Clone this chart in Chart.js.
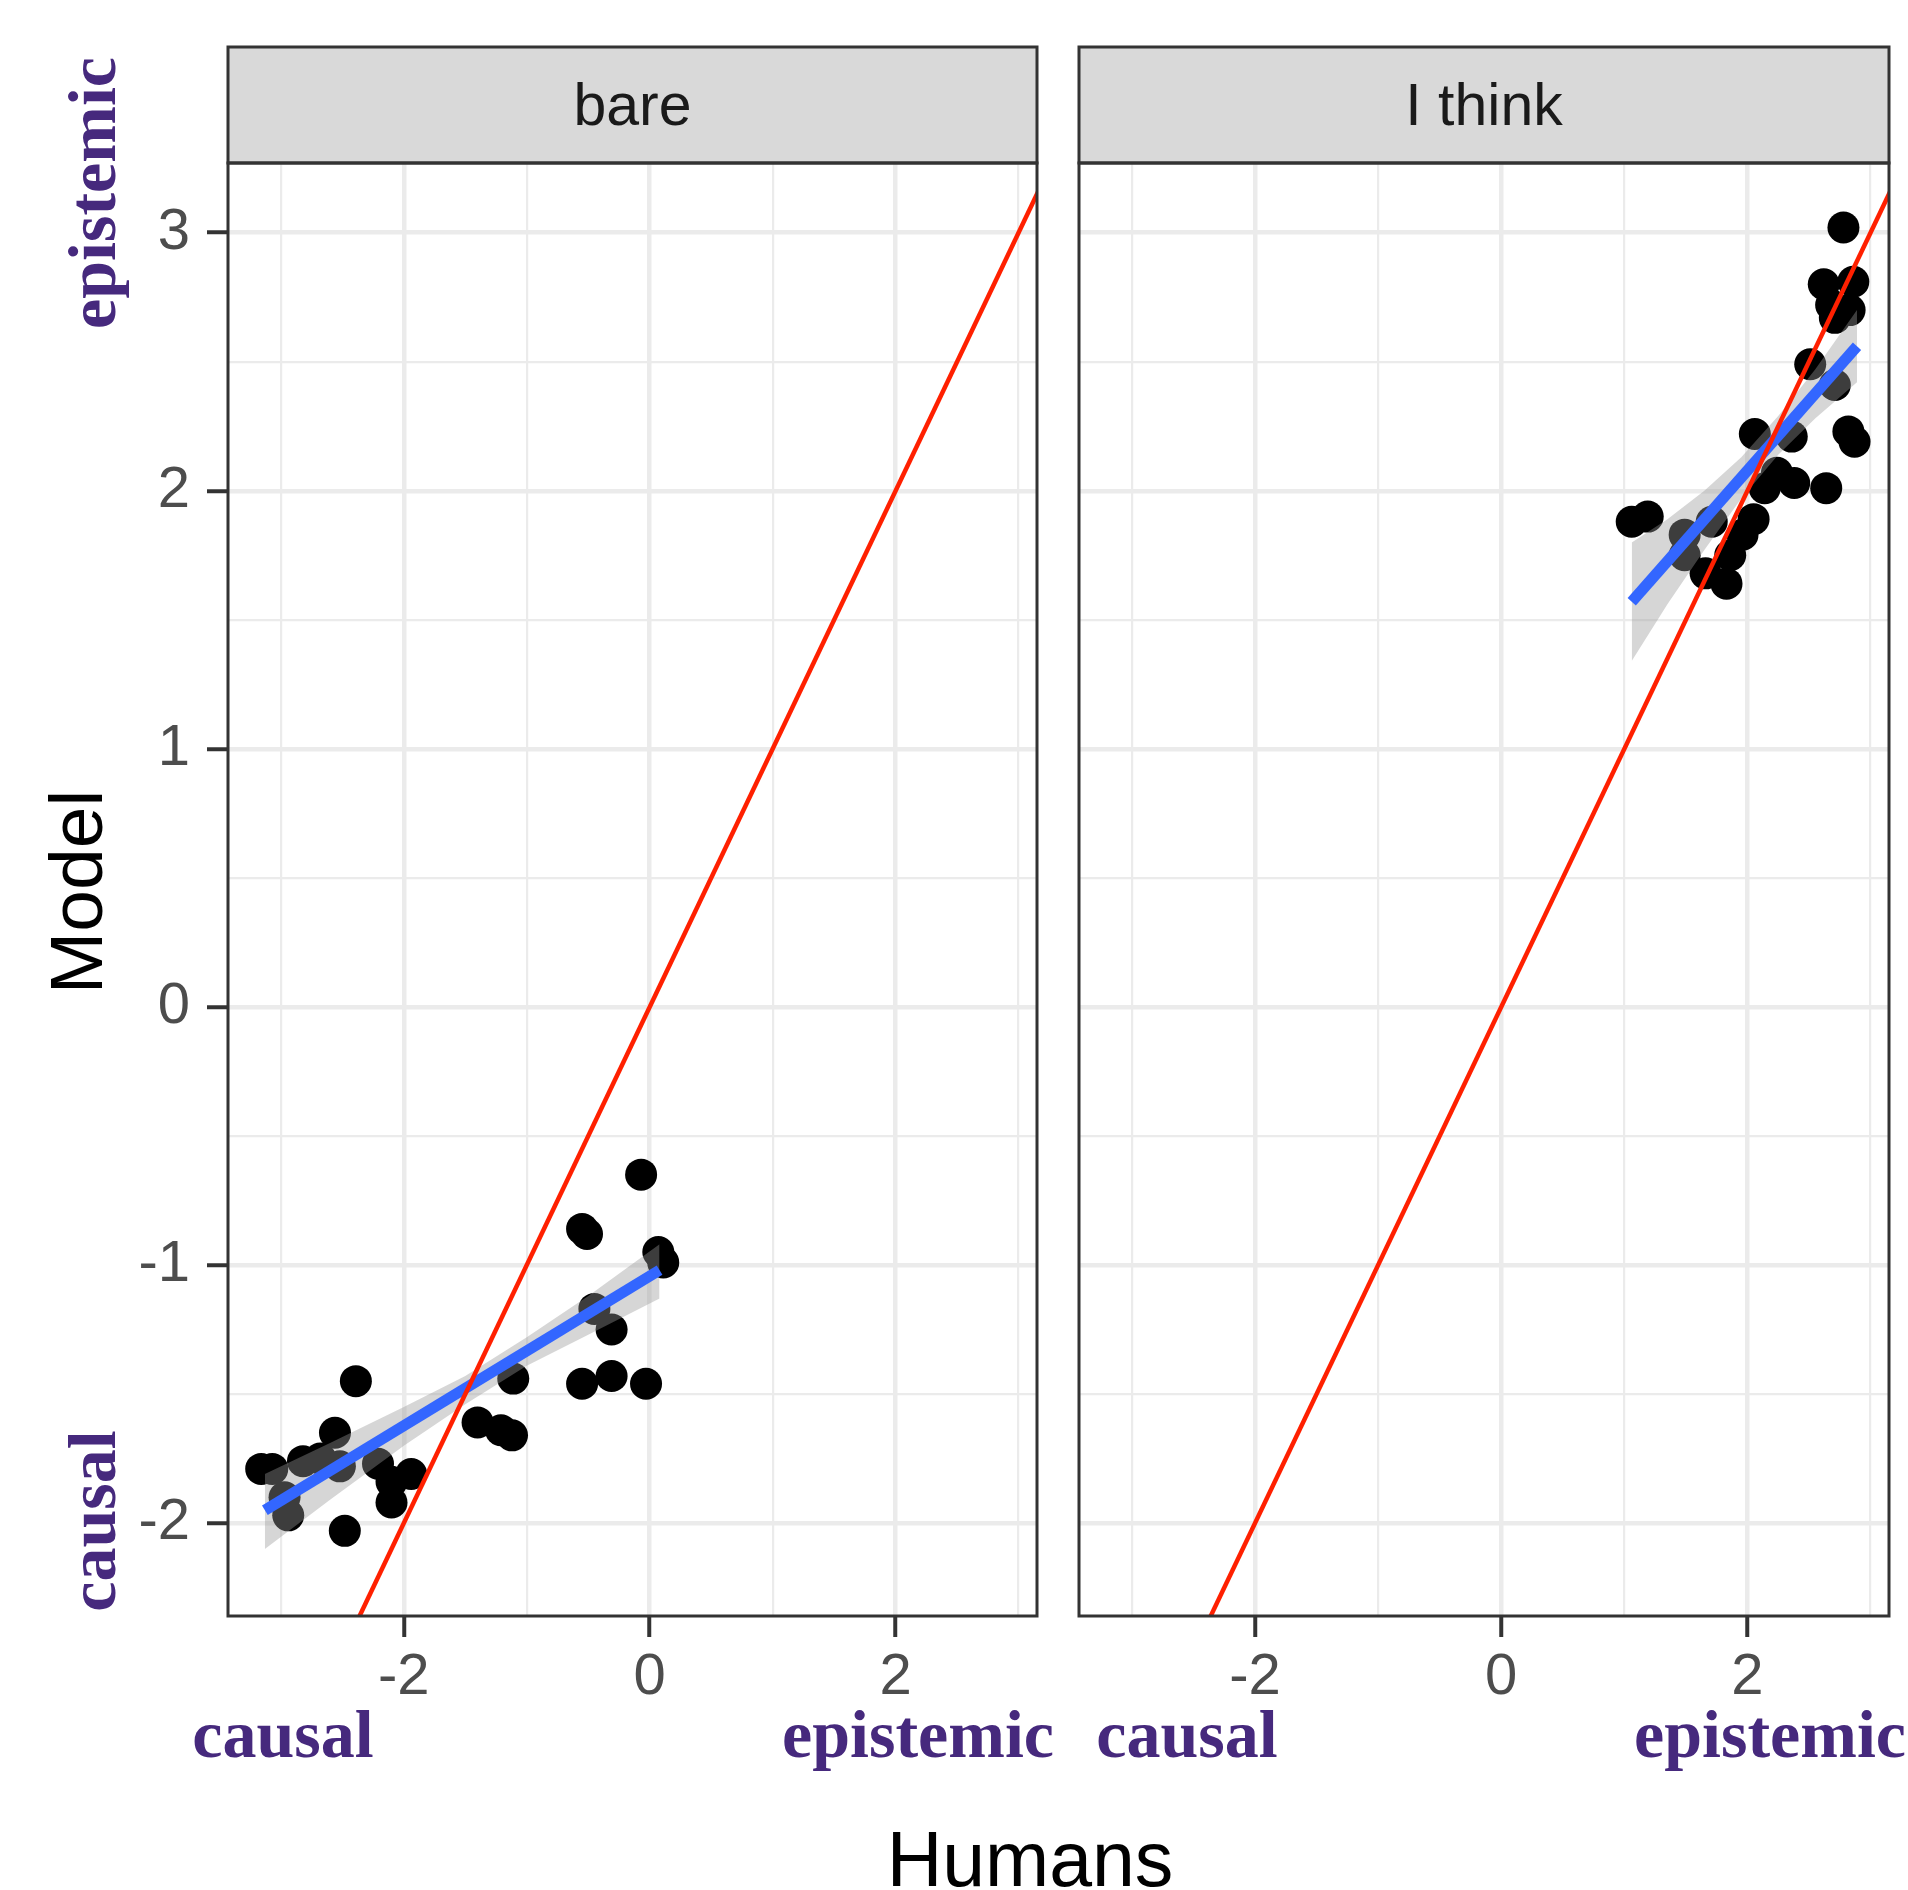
<!DOCTYPE html>
<html>
<head>
<meta charset="utf-8">
<title>Model vs Humans</title>
<script src="https://cdn.jsdelivr.net/npm/chart.js@4.4.1/dist/chart.umd.min.js"></script>
<style>
  html, body { margin: 0; padding: 0; background: #fff; }
  #wrap { position: relative; width: 1908px; height: 1890px; }
  #wrap canvas { position: absolute; left: 0; top: 0; }
</style>
</head>
<body>
<div id="wrap">
  <canvas id="bare" width="1908" height="1890"></canvas>
  <canvas id="think" width="1908" height="1890"></canvas>
</div>
<script>
// Facet titles
var panelTitles = ['bare', 'I think'];

// Points: Humans (x) vs Model (y)
var bareHumans = [-0.07, -0.55, -0.51, 0.07, 0.11, -0.45, -0.31, -0.55, -0.31, -0.03,
  -1.11, -1.40, -1.21, -1.12, -2.39, -2.56, -3.16, -3.07, -2.82, -2.68,
  -2.52, -2.97, -2.94, -2.48, -2.21, -2.10, -2.10, -1.94];
var bareModel = [-0.65, -0.86, -0.88, -0.95, -0.99, -1.17, -1.25, -1.46, -1.43, -1.46,
  -1.44, -1.61, -1.64, -1.66, -1.45, -1.65, -1.79, -1.79, -1.76, -1.75,
  -1.78, -1.90, -1.97, -2.03, -1.77, -1.84, -1.92, -1.81];

var thinkHumans = [2.78, 2.62, 2.86, 2.68, 2.83, 2.71, 2.51, 2.71, 2.82, 2.87,
  2.06, 2.36, 2.24, 2.38, 2.14, 2.64, 1.06, 1.19, 1.49, 1.71,
  2.05, 1.49, 1.66, 1.86, 1.83, 1.96];
var thinkModel = [3.02, 2.80, 2.81, 2.72, 2.70, 2.67, 2.49, 2.41, 2.23, 2.19,
  2.22, 2.21, 2.07, 2.03, 2.01, 2.01, 1.88, 1.90, 1.83, 1.88,
  1.89, 1.75, 1.68, 1.75, 1.64, 1.83];

// Linear fit (blue) and its confidence band
var bareFitX = [-3.13, 0.08];
var bareFitY = [-1.95, -1.02];
var bareBandX = [-3.13, -2.6, -2.0, -1.5, -1.0, -0.5, 0.08];
var bareBandHi = [-1.81, -1.69, -1.55, -1.43, -1.28, -1.12, -0.92];
var bareBandLo = [-2.10, -1.91, -1.70, -1.54, -1.39, -1.27, -1.13];

var thinkFitX = [1.06, 2.89];
var thinkFitY = [1.57, 2.56];
var thinkBandX = [1.06, 1.35, 1.65, 1.95, 2.25, 2.55, 2.89];
var thinkBandHi = [1.80, 1.89, 2.00, 2.13, 2.29, 2.47, 2.70];
var thinkBandLo = [1.34, 1.56, 1.77, 1.97, 2.14, 2.28, 2.42];

// y = x reference line (red)
var identityLine = [-4, 4];

// Axes
var xRange = [-3.43, 3.15];
var yRange = [-2.36, 3.27];
var xMajorTicks = [-2, 0, 2];
var xMinorTicks = [-3, -1, 1, 3];
var yMajorTicks = [-2, -1, 0, 1, 2, 3];
var yMinorTicks = [-1.5, -0.5, 0.5, 1.5, 2.5];

(function () {
  'use strict';

  var SANS = '"Liberation Sans", Arial, Helvetica, sans-serif';
  var SERIF = '"Liberation Serif", "Times New Roman", serif';
  var PURPLE = '#46297d';
  var STRIP_TOP = 47;

  function zip(xs, ys) {
    return xs.map(function (x, i) { return { x: x, y: ys[i] }; });
  }

  function isMajor(list, ctx) {
    return !!(ctx && ctx.tick && list.indexOf(ctx.tick.value) >= 0);
  }

  function setTicks(majors, minors) {
    return function (scale) {
      scale.ticks = majors.concat(minors).sort(function (a, b) { return a - b; })
        .map(function (v) { return { value: v }; });
    };
  }

  function grid(majors, showTicks) {
    return {
      color: '#ebebeb',
      lineWidth: function (ctx) { return isMajor(majors, ctx) ? 4.5 : 2.2; },
      drawTicks: showTicks,
      tickLength: 21,
      tickWidth: 4,
      tickColor: function (ctx) { return isMajor(majors, ctx) ? '#333333' : 'rgba(0,0,0,0)'; }
    };
  }

  // Strip on top + dark panel border
  var panelFrame = {
    id: 'panelFrame',
    afterDraw: function (chart) {
      var a = chart.chartArea, c = chart.ctx;
      var title = chart.options.plugins.panelFrame.title;
      c.save();
      c.fillStyle = '#d9d9d9';
      c.fillRect(a.left, STRIP_TOP, a.right - a.left, a.top - STRIP_TOP);
      c.lineWidth = 3;
      c.strokeStyle = '#333333';
      c.strokeRect(a.left, STRIP_TOP, a.right - a.left, a.top - STRIP_TOP);
      c.strokeRect(a.left, a.top, a.right - a.left, a.bottom - a.top);
      c.fillStyle = '#1a1a1a';
      c.font = '59px ' + SANS;
      c.textAlign = 'center';
      c.textBaseline = 'alphabetic';
      c.fillText(title, (a.left + a.right) / 2, 125);
      c.restore();
    }
  };

  // Axis titles and the purple causal / epistemic hints
  var outerLabels = {
    id: 'outerLabels',
    afterDraw: function (chart) {
      var c = chart.ctx;
      c.save();
      c.textBaseline = 'alphabetic';
      c.textAlign = 'center';
      c.fillStyle = '#000';
      c.font = '77px ' + SANS;
      c.fillText('Humans', 1030, 1886);
      c.font = '75px ' + SANS;
      c.save();
      c.translate(102, 892);
      c.rotate(-Math.PI / 2);
      c.fillText('Model', 0, 0);
      c.restore();

      c.fillStyle = PURPLE;
      c.font = 'bold 68px ' + SERIF;
      c.fillText('causal', 283, 1757);
      c.fillText('epistemic', 918, 1757);
      c.fillText('causal', 1187, 1757);
      c.fillText('epistemic', 1770, 1757);
      [['epistemic', 193], ['causal', 1521]].forEach(function (l) {
        c.save();
        c.translate(115, l[1]);
        c.rotate(-Math.PI / 2);
        c.fillText(l[0], 0, 0);
        c.restore();
      });
      c.restore();
    }
  };

  function makePanel(id, title, px, py, fitX, fitY, bandX, bandHi, bandLo, showY, pad, extraPlugins) {
    var datasets = [
      {
        type: 'line', data: zip(identityLine, identityLine), borderColor: '#ff2000',
        borderWidth: 4.5, pointRadius: 0, fill: false, order: 1
      },
      {
        type: 'line', data: zip(fitX, fitY), borderColor: '#3366ff',
        borderWidth: 11, pointRadius: 0, fill: false, order: 2
      },
      {
        type: 'line', data: zip(bandX, bandHi), borderColor: 'rgba(0,0,0,0)', borderWidth: 1,
        pointRadius: 0, fill: '+1', backgroundColor: 'rgba(153,153,153,0.4)', order: 3
      },
      {
        type: 'line', data: zip(bandX, bandLo), borderColor: 'rgba(0,0,0,0)', borderWidth: 1,
        pointRadius: 0, fill: false, order: 3
      },
      {
        type: 'scatter', data: zip(px, py), backgroundColor: '#000000',
        borderColor: 'rgba(0,0,0,0)', borderWidth: 0, pointRadius: 16, order: 4
      }
    ];

    return new Chart(document.getElementById(id), {
      type: 'scatter',
      data: { datasets: datasets },
      options: {
        responsive: false,
        animation: false,
        events: [],
        layout: { padding: pad },
        plugins: {
          legend: { display: false },
          tooltip: { enabled: false },
          panelFrame: { title: title }
        },
        scales: {
          x: {
            type: 'linear',
            min: xRange[0],
            max: xRange[1],
            border: { display: false },
            grid: grid(xMajorTicks, true),
            afterBuildTicks: setTicks(xMajorTicks, xMinorTicks),
            afterFit: function (scale) { scale.height = 274; },
            ticks: {
              autoSkip: false,
              maxRotation: 0,
              padding: 6,
              color: '#4d4d4d',
              font: { family: SANS, size: 58 },
              callback: function (v) { return xMajorTicks.indexOf(v) >= 0 ? String(v) : ''; }
            }
          },
          y: {
            type: 'linear',
            min: yRange[0],
            max: yRange[1],
            border: { display: false },
            grid: grid(yMajorTicks, showY),
            afterBuildTicks: setTicks(yMajorTicks, yMinorTicks),
            afterFit: function (scale) { scale.width = showY ? 228 : 0; },
            ticks: {
              display: showY,
              autoSkip: false,
              padding: 17,
              color: '#4d4d4d',
              font: { family: SANS, size: 58 },
              callback: function (v) { return yMajorTicks.indexOf(v) >= 0 ? String(v) : ''; }
            }
          }
        }
      },
      plugins: [panelFrame].concat(extraPlugins)
    });
  }

  makePanel('bare', panelTitles[0], bareHumans, bareModel, bareFitX, bareFitY,
    bareBandX, bareBandHi, bareBandLo, true,
    { left: 0, top: 163, right: 1908 - 1037, bottom: 0 }, [outerLabels]);

  makePanel('think', panelTitles[1], thinkHumans, thinkModel, thinkFitX, thinkFitY,
    thinkBandX, thinkBandHi, thinkBandLo, false,
    { left: 1079, top: 163, right: 1908 - 1889, bottom: 0 }, []);
})();
</script>
</body>
</html>
